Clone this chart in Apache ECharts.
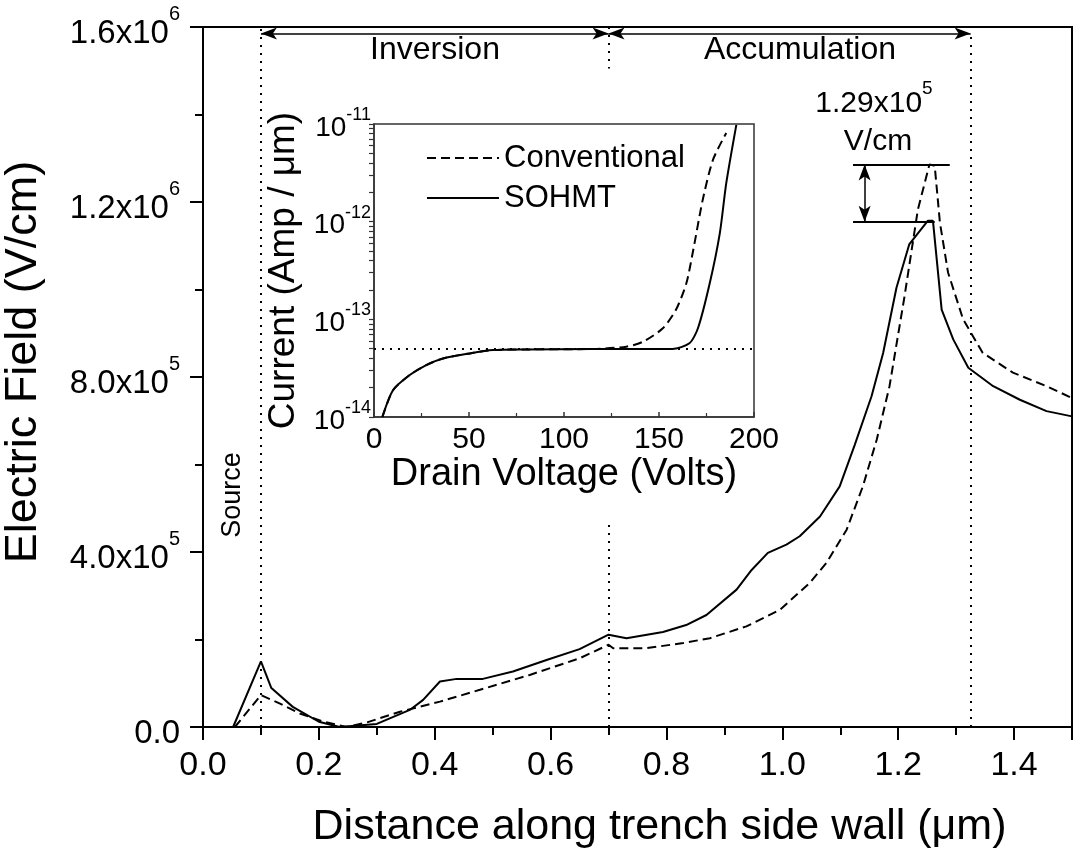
<!DOCTYPE html>
<html lang="en">
<head>
    <meta charset="UTF-8">
    <title>Electric Field along Trench Side Wall</title>
    <script src="https://cdn.jsdelivr.net/npm/echarts@6/dist/echarts.min.js"></script>
    <style>
        html, body { margin: 0; padding: 0; background: #fff; }
    </style>
</head>
<body>
    <div id="chart" style="width: 1073px; height: 853px;"></div>
    <script>
        // main plot: distance (um) vs electric field (V/cm)
        var convDist  = [0.055, 0.1, 0.132, 0.167, 0.208, 0.248, 0.282, 0.34, 0.409, 0.478, 0.564, 0.65, 0.7, 0.708, 0.765, 0.829, 0.875, 0.938, 0.996, 1.047, 1.076, 1.111, 1.139, 1.163, 1.185, 1.211, 1.234, 1.254, 1.263, 1.272, 1.286, 1.312, 1.346, 1.398, 1.456, 1.5];
        var convField = [0, 73e3, 54e3, 31e3, 12e3, 0, 10e3, 35e3, 58e3, 85e3, 119e3, 157e3, 188e3, 180e3, 180e3, 192e3, 203e3, 230e3, 268e3, 329e3, 375e3, 451e3, 550e3, 657e3, 779e3, 985e3, 1183e3, 1286e3, 1283e3, 1153e3, 1039e3, 932e3, 855e3, 810e3, 779e3, 752e3];

        var sohmtDist  = [0.052, 0.1, 0.118, 0.155, 0.2, 0.236, 0.3, 0.357, 0.38, 0.409, 0.438, 0.483, 0.535, 0.593, 0.65, 0.7, 0.731, 0.794, 0.834, 0.869, 0.921, 0.947, 0.975, 1.007, 1.03, 1.065, 1.099, 1.125, 1.154, 1.174, 1.197, 1.219, 1.251, 1.26, 1.275, 1.295, 1.321, 1.364, 1.41, 1.456, 1.5];
        var sohmtField = [0, 150e3, 89e3, 46e3, 12e3, 0, 7e3, 39e3, 62e3, 104e3, 110e3, 110e3, 127e3, 153e3, 178e3, 211e3, 203e3, 217e3, 233e3, 256e3, 314e3, 359e3, 398e3, 417e3, 436e3, 481e3, 550e3, 645e3, 756e3, 855e3, 1004e3, 1103e3, 1157e3, 1157e3, 954e3, 886e3, 821e3, 779e3, 748e3, 722e3, 710e3];

        // inset: drain voltage (V) vs current (A/um)
        var convVolt = [4.4, 10, 18.8, 27.5, 36.3, 50.4, 62.6, 80, 115, 132.8, 141.6, 152, 159, 164.4, 168, 173, 178.4, 185.4];
        var convCurr = [1e-14, 1.88e-14, 2.69e-14, 3.4e-14, 3.98e-14, 4.48e-14, 4.84e-14, 4.92e-14, 4.97e-14, 5.25e-14, 5.9e-14, 8.1e-14, 1.26e-13, 2.34e-13, 5.1e-13, 1.67e-12, 4.3e-12, 8.1e-12];
        var sohmtVolt = [4.4, 10, 18.8, 27.5, 36.3, 50.4, 62.6, 80, 115, 157, 166, 170.5, 176.7, 182, 185.4, 190.7];
        var sohmtCurr = [1e-14, 1.88e-14, 2.69e-14, 3.4e-14, 3.98e-14, 4.48e-14, 4.84e-14, 4.92e-14, 4.97e-14, 4.97e-14, 5.68e-14, 8.1e-14, 2.34e-13, 7.6e-13, 2.48e-12, 9.8e-12];
        var satCurrent = 5e-14;

        // region markers along the side wall
        var sourceEdge = 0.1;
        var regionSplit = 0.7;
        var accumEnd = 1.325;
        var peakConv = 1.286e6;
        var peakSohmt = 1.155e6;

        function zip(a, b) {
            return a.map(function (v, i) { return [v, b[i]]; });
        }

        var FONT = 'Liberation Sans';
        var chart = echarts.init(document.getElementById('chart'));

        function sciLabel(v) {
            if (v === 0) return '{b|0.0}';
            var e = Math.floor(Math.log10(v) + 1e-9);
            var m = (v / Math.pow(10, e)).toFixed(1);
            return '{b|' + m + 'x10}{sup|' + e + '}';
        }

        var dotted = { type: [2, 6], width: 2, color: '#000' };
        var arrowLine = { type: 'solid', width: 1.5, color: '#000' };
        var plainLine = { type: 'solid', width: 2, color: '#000' };

        function seg(x1, y1, x2, y2, style, arrows) {
            var s = arrows ? 'arrow' : 'none';
            return [
                { coord: [x1, y1], symbol: s, symbolSize: [9, 16], lineStyle: style },
                { coord: [x2, y2], symbol: s, symbolSize: [9, 16] }
            ];
        }

        var option = {
            animation: false,
            backgroundColor: '#fff',
            textStyle: { fontFamily: FONT, color: '#000' },
            grid: [
                { left: 203, top: 27, width: 869, height: 700, show: true, borderColor: '#000', borderWidth: 2, outerBoundsMode: 'none', containLabel: false },
                { left: 374, top: 124, width: 380, height: 293, show: true, borderColor: '#333', borderWidth: 1.5, outerBoundsMode: 'none', containLabel: false }
            ],
            legend: {
                data: ['Conventional', 'SOHMT'],
                orient: 'vertical',
                left: 421,
                top: 136,
                itemWidth: 72,
                itemHeight: 14,
                itemGap: 6,
                selectedMode: false,
                itemStyle: { opacity: 0, color: 'transparent', borderWidth: 0 },
                textStyle: { fontFamily: FONT, fontSize: 31, color: '#000', lineHeight: 34 }
            },
            xAxis: [
                {
                    gridIndex: 0, type: 'value', min: 0, max: 1.5, interval: 0.2,
                    name: 'Distance along trench side wall (\u03bcm)',
                    nameLocation: 'middle', nameGap: 79,
                    nameTextStyle: { fontFamily: FONT, fontSize: 43, color: '#000', padding: [0, 0, 0, 44] },
                    axisLine: { lineStyle: { color: '#000', width: 2 } },
                    axisTick: { length: 13, lineStyle: { color: '#000', width: 2 } },
                    minorTick: { show: true, splitNumber: 2, length: 8, lineStyle: { color: '#000', width: 2 } },
                    splitLine: { show: false },
                    axisLabel: {
                        fontFamily: FONT, fontSize: 34, color: '#000', margin: 22, showMaxLabel: false,
                        formatter: function (v) { return v.toFixed(1); }
                    }
                },
                {
                    gridIndex: 1, type: 'value', min: 0, max: 200, interval: 50,
                    name: 'Drain Voltage (Volts)',
                    nameLocation: 'middle', nameGap: 30,
                    nameTextStyle: { fontFamily: FONT, fontSize: 38, color: '#000' },
                    axisLine: { lineStyle: { color: '#333', width: 1.5 } },
                    axisTick: { inside: true, length: 5, lineStyle: { color: '#333', width: 1.5 } },
                    minorTick: { show: true, splitNumber: 2, length: 4, lineStyle: { color: '#333', width: 1.2 } },
                    splitLine: { show: false },
                    axisLabel: { fontFamily: FONT, fontSize: 30, color: '#000', margin: 8 }
                }
            ],
            yAxis: [
                {
                    gridIndex: 0, type: 'value', min: 0, max: 1.6e6, interval: 4e5,
                    name: 'Electric Field (V/cm)',
                    nameLocation: 'middle', nameGap: 157,
                    nameTextStyle: { fontFamily: FONT, fontSize: 45, color: '#000', padding: [0, 0, 0, 30] },
                    axisLine: { lineStyle: { color: '#000', width: 2 } },
                    axisTick: { length: 13, lineStyle: { color: '#000', width: 2 } },
                    minorTick: { show: true, splitNumber: 2, length: 8, lineStyle: { color: '#000', width: 2 } },
                    splitLine: { show: false },
                    axisLabel: {
                        margin: 23, formatter: sciLabel,
                        rich: {
                            b: { fontFamily: FONT, fontSize: 33, color: '#000', lineHeight: 46, verticalAlign: 'bottom' },
                            sup: { fontFamily: FONT, fontSize: 20, color: '#000', lineHeight: 20, verticalAlign: 'top' }
                        }
                    }
                },
                {
                    gridIndex: 1, type: 'log', logBase: 10, min: 1e-14, max: 1e-11,
                    name: 'Current (Amp / \u03bcm)',
                    nameLocation: 'middle', nameGap: 72,
                    nameTextStyle: { fontFamily: FONT, fontSize: 37, color: '#000' },
                    axisLine: { lineStyle: { color: '#333', width: 1.5 } },
                    axisTick: {
                        length: 5, lineStyle: { color: '#333', width: 1.2 },
                        customValues: [1e-14, 2e-14, 3e-14, 4e-14, 5e-14, 6e-14, 7e-14, 8e-14, 9e-14,
                                       1e-13, 2e-13, 3e-13, 4e-13, 5e-13, 6e-13, 7e-13, 8e-13, 9e-13,
                                       1e-12, 2e-12, 3e-12, 4e-12, 5e-12, 6e-12, 7e-12, 8e-12, 9e-12, 1e-11]
                    },
                    splitLine: { show: false },
                    axisLabel: {
                        margin: 3,
                        formatter: function (v) {
                            var e = Math.round(Math.log10(v));
                            return '{b|10}{sup|' + e + '}';
                        },
                        rich: {
                            b: { fontFamily: FONT, fontSize: 28, color: '#000', lineHeight: 36, verticalAlign: 'bottom' },
                            sup: { fontFamily: FONT, fontSize: 18, color: '#000', lineHeight: 18, verticalAlign: 'top' }
                        }
                    }
                }
            ],
            series: [
                {
                    name: 'Conventional', type: 'line', xAxisIndex: 0, yAxisIndex: 0,
                    data: zip(convDist, convField), symbol: 'none',
                    lineStyle: { color: '#000', width: 2, type: [9, 5] }
                },
                {
                    name: 'SOHMT', type: 'line', xAxisIndex: 0, yAxisIndex: 0,
                    data: zip(sohmtDist, sohmtField), symbol: 'none',
                    lineStyle: { color: '#000', width: 2, type: 'solid' },
                    markLine: {
                        silent: true, animation: false, symbol: ['none', 'none'],
                        label: { show: false },
                        data: [
                            seg(sourceEdge, 0, sourceEdge, 1.6e6, dotted),
                            seg(regionSplit, 1.6e6, regionSplit, 1.505e6, dotted),
                            seg(regionSplit, 0.462e6, regionSplit, 0, dotted),
                            seg(accumEnd, 0, accumEnd, 1.585e6, dotted),
                            seg(sourceEdge, 1.585e6, regionSplit, 1.585e6, arrowLine, true),
                            seg(regionSplit, 1.585e6, accumEnd, 1.585e6, arrowLine, true),
                            seg(1.122, peakConv, 1.289, peakConv, plainLine),
                            seg(1.122, peakSohmt, 1.263, peakSohmt, plainLine),
                            seg(1.142, peakConv, 1.142, peakSohmt, arrowLine, true)
                        ]
                    }
                },
                {
                    name: 'Conventional', type: 'line', xAxisIndex: 1, yAxisIndex: 1,
                    data: zip(convVolt, convCurr), symbol: 'none', smooth: 0.25,
                    lineStyle: { color: '#000', width: 2, type: [9, 5] }
                },
                {
                    name: 'SOHMT', type: 'line', xAxisIndex: 1, yAxisIndex: 1,
                    data: zip(sohmtVolt, sohmtCurr), symbol: 'none', smooth: 0.25,
                    lineStyle: { color: '#000', width: 2, type: 'solid' },
                    markLine: {
                        silent: true, animation: false, symbol: ['none', 'none'],
                        label: { show: false },
                        lineStyle: { type: [2, 6], width: 2, color: '#000' },
                        data: [[{ coord: [0, satCurrent] }, { coord: [200, satCurrent] }]]
                    }
                }
            ],
            graphic: [
                { type: 'text', x: 435, y: 50, style: { text: 'Inversion', font: '32px "Liberation Sans"', fill: '#000', textAlign: 'center', textVerticalAlign: 'middle' } },
                { type: 'text', x: 800, y: 50, style: { text: 'Accumulation', font: '32px "Liberation Sans"', fill: '#000', textAlign: 'center', textVerticalAlign: 'middle' } },
                { type: 'text', x: 233, y: 495, rotation: Math.PI / 2, style: { text: 'Source', font: '27px "Liberation Sans"', fill: '#000', textAlign: 'center', textVerticalAlign: 'middle' } },
                {
                    type: 'text', x: 874, y: 99,
                    style: {
                        text: '{b|1.29x10}{sup|5}', textAlign: 'center', textVerticalAlign: 'middle',
                        rich: {
                            b: { fontFamily: FONT, fontSize: 30, fill: '#000', lineHeight: 40, verticalAlign: 'bottom' },
                            sup: { fontFamily: FONT, fontSize: 19, fill: '#000', lineHeight: 20, verticalAlign: 'top' }
                        }
                    }
                },
                { type: 'text', x: 878, y: 142, style: { text: 'V/cm', font: '30px "Liberation Sans"', fill: '#000', textAlign: 'center', textVerticalAlign: 'middle' } }
            ]
        };

        chart.setOption(option);
    </script>
</body>
</html>
